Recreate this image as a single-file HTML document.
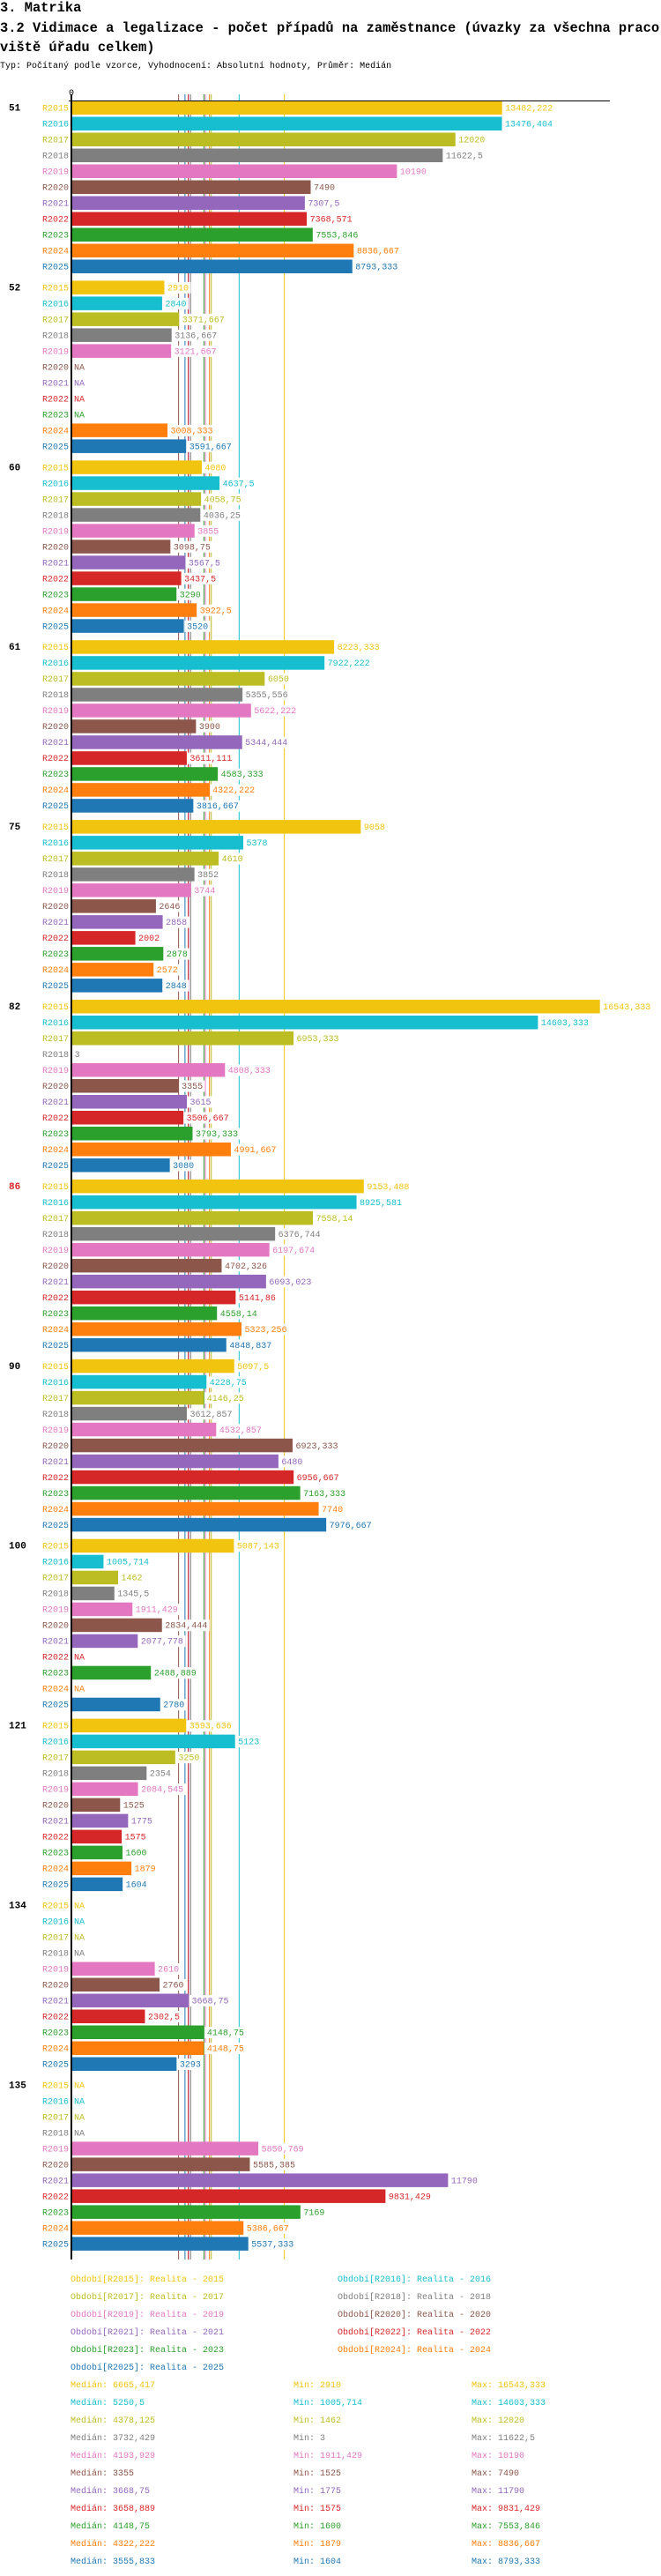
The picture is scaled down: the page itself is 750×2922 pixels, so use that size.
<!DOCTYPE html>
<html><head><meta charset="utf-8"><style>
html,body{margin:0;padding:0;background:#fff;}
svg{display:block;}
text{font-family:"Liberation Mono","DejaVu Sans Mono",monospace;}
</style></head><body>
<svg id="chart" width="750" height="2922" xmlns="http://www.w3.org/2000/svg">
<text x="0" y="13" font-size="15.4" font-weight="bold">3. Matrika</text>
<text x="0" y="36" font-size="15.4" font-weight="bold">3.2 Vidimace a legalizace - počet případů na zaměstnance (úvazky za všechna praco</text>
<text x="0" y="58" font-size="15.4" font-weight="bold">viště úřadu celkem)</text>
<text x="0" y="77" font-size="10">Typ: Počítaný podle vzorce, Vyhodnocení: Absolutní hodnoty, Průměr: Medián</text>
<g id="g"></g>
</svg>
<script>
const groups = ["51","52","60","61","75","82","86","90","100","121","134","135"];
const series = ["R2015","R2016","R2017","R2018","R2019","R2020","R2021","R2022","R2023","R2024","R2025"];
const colors = ["#f1c40f","#17becf","#bcbd22","#7f7f7f","#e377c2","#8c564b","#9467bd","#d62728","#2ca02c","#ff7f0e","#1f77b4"];
const v51 = [13482.222,13476.404,12020,11622.5,10190,7490,7307.5,7368.571,7553.846,8836.667,8793.333];
const v52 = [2910,2840,3371.667,3136.667,3121.667,null,null,null,null,3008.333,3591.667];
const v60 = [4080,4637.5,4058.75,4036.25,3855,3098.75,3567.5,3437.5,3290,3922.5,3520];
const v61 = [8223.333,7922.222,6050,5355.556,5622.222,3900,5344.444,3611.111,4583.333,4322.222,3816.667];
const v75 = [9058,5378,4610,3852,3744,2646,2858,2002,2878,2572,2848];
const v82 = [16543.333,14603.333,6953.333,3,4808.333,3355,3615,3506.667,3793.333,4991.667,3080];
const v86 = [9153.488,8925.581,7558.14,6376.744,6197.674,4702.326,6093.023,5141.86,4558.14,5323.256,4848.837];
const v90 = [5097.5,4228.75,4146.25,3612.857,4532.857,6923.333,6480,6956.667,7163.333,7740,7976.667];
const v100 = [5087.143,1005.714,1462,1345.5,1911.429,2834.444,2077.778,null,2488.889,null,2780];
const v121 = [3593.636,5123,3250,2354,2084.545,1525,1775,1575,1600,1879,1604];
const v134 = [null,null,null,null,2610,2760,3668.75,2302.5,4148.75,4148.75,3293];
const v135 = [null,null,null,null,5850.769,5585.385,11790,9831.429,7169,5386.667,5537.333];
const values = [v51,v52,v60,v61,v75,v82,v86,v90,v100,v121,v134,v135];
const medians = [6665.417,5250.5,4378.125,3732.429,4193.929,3355,3668.75,3658.889,4148.75,4322.222,3555.833];
const mins = [2910,1005.714,1462,3,1911.429,1525,1775,1575,1600,1879,1604];
const maxs = [16543.333,14603.333,12020,11622.5,10190,7490,11790,9831.429,7553.846,8836.667,8793.333];
const groupLabelColors = ["#000","#000","#000","#000","#000","#000","#d62728","#000","#000","#000","#000","#000"];

const NS="http://www.w3.org/2000/svg";
const g=document.getElementById('g');
const X0=81, SC=0.03625, TOP=114, ROW=18, GP=203.9, BH=15.5;
const xs=v=>X0+v*SC;
const rowY=(gi,si)=>TOP+gi*GP+si*ROW;
const fmt=v=>String(v).replace('.',',');
function mk(tag,attrs,parent){const e=document.createElementNS(NS,tag);for(const k in attrs)e.setAttribute(k,attrs[k]);(parent||g).appendChild(e);return e;}

// median lines
medians.forEach((m,i)=>{
  const l=mk('line',{x1:xs(m),x2:xs(m),y1:107,y2:2563,stroke:colors[i],'stroke-width':1});
  
  
});

groups.forEach((gn,gi)=>{
  const gl=mk('text',{x:10,y:rowY(gi,0)+11.5,'font-size':11,'font-weight':'bold',fill:groupLabelColors[gi]});
  gl.textContent=gn;
  
  
  series.forEach((s,si)=>{
    const y=rowY(gi,si);
    const t=mk('text',{x:78,y:y+11.5,'font-size':10,'text-anchor':'end',fill:colors[si]});
    t.textContent=s;
    
    
    const v=values[gi][si];
    if(v===null){
      const na=mk('text',{x:84,y:y+11.5,'font-size':10,fill:colors[si]});
      na.textContent='NA';
      
      
      return;
    }
    const r=mk('rect',{x:X0+1,y:y+0.5,width:Math.max(0,xs(v)-X0-1),height:BH,fill:colors[si]});
    
    
    const str=fmt(v);
    const bg=mk('rect',{x:xs(v)+1,y:y+2,width:str.length*6+5,height:13,fill:'#fff'});
    
    
    const vt=mk('text',{x:xs(v)+3.5,y:y+11.5,'font-size':10,fill:colors[si]});
    vt.textContent=str;
    
    
  });
});

// axes
const ax=mk('line',{x1:78,x2:692,y1:114.5,y2:114.5,stroke:'#000','stroke-width':1});


const ay=mk('rect',{x:80,y:107,width:2,height:2456,fill:'#000'});


const zt=mk('text',{x:81,y:108,'font-size':10,'text-anchor':'middle'});
zt.textContent='0';



// legend
series.forEach((s,i)=>{
  const col=i%2, row=Math.floor(i/2);
  const t=mk('text',{x:col?383:80,y:2588+row*20,'font-size':10,fill:colors[i]});
  t.textContent='Období['+s+']: Realita - '+s.slice(1);
  
  
});
// stats
series.forEach((s,i)=>{
  const y=2708+i*20;
  const a=mk('text',{x:80,y:y,'font-size':10,fill:colors[i]});
  a.textContent='Medián: '+fmt(medians[i]);
  
  
  const b=mk('text',{x:333,y:y,'font-size':10,fill:colors[i]});
  b.textContent='Min: '+fmt(mins[i]);
  
  
  const c=mk('text',{x:535,y:y,'font-size':10,fill:colors[i]});
  c.textContent='Max: '+fmt(maxs[i]);
  
  
});
</script>
</body></html>
